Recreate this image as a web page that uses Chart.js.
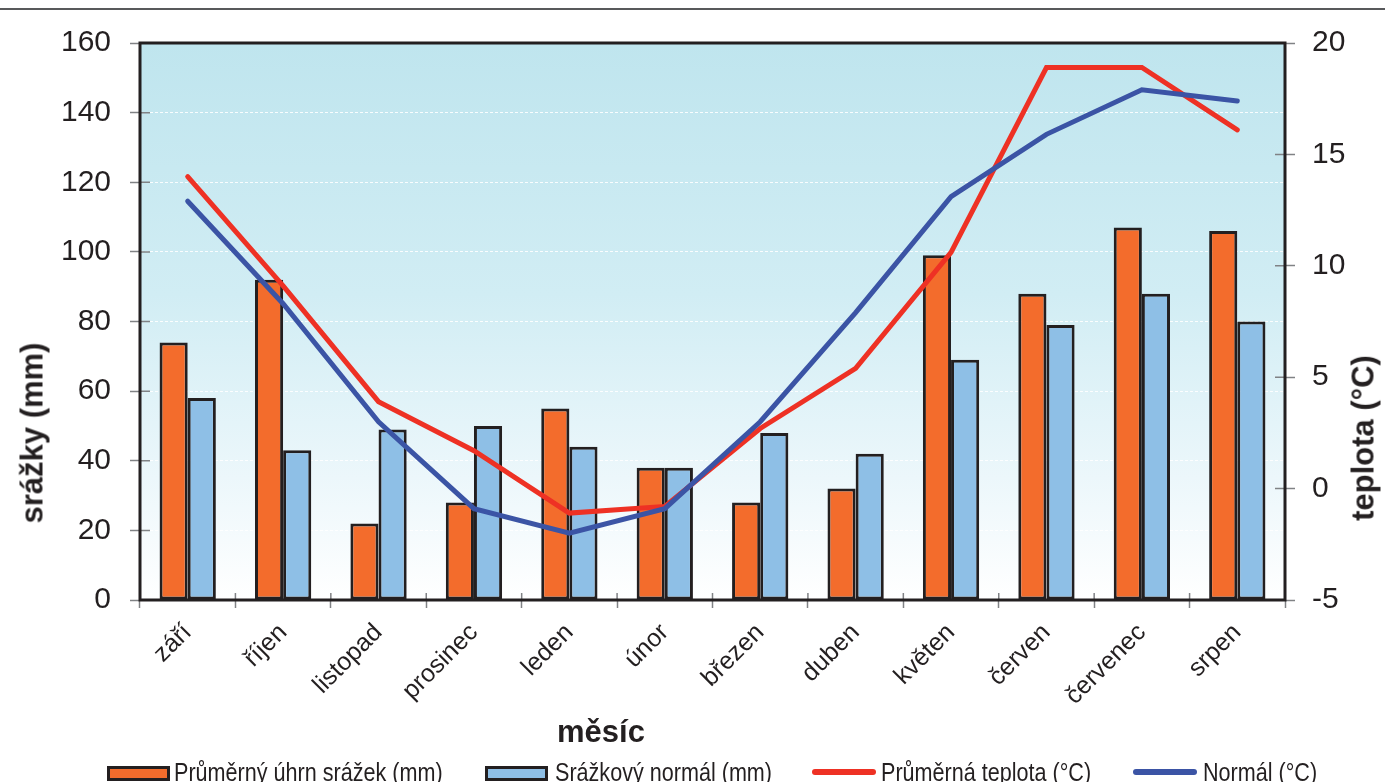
<!DOCTYPE html>
<html>
<head>
<meta charset="utf-8">
<script src="https://cdn.jsdelivr.net/npm/chart.js@4/dist/chart.umd.min.js"></script>
<style>
  html, body { margin: 0; padding: 0; background: #fff; }
  #wrap { position: relative; width: 1385px; height: 782px; overflow: hidden; }
  #topline { position: absolute; left: 0; top: 8px; width: 1385px; height: 0; border-top: 2px solid #58595b; }
  canvas { position: absolute; left: 0; top: 0; }
  .title { position: absolute; font-family: "Liberation Sans", Arial, sans-serif; font-weight: bold; font-size: 31px; color: #231f20; white-space: nowrap; line-height: 1; }
  .rot { transform: translate(-50%, -50%) rotate(-90deg); }
  .leg { position: absolute; top: 758px; height: 28px; font-family: "Liberation Sans", Arial, sans-serif; font-size: 26px; color: #231f20; white-space: nowrap; }
  .leg .sym { position: absolute; left: 0; }
  .leg .txt { position: absolute; top: 0; line-height: 28px; transform: scaleX(0.83); transform-origin: 0 50%; }
  .box { top: 8px; width: 57px; height: 9px; border: 3px solid #231f20; box-sizing: content-box; }
  .ln { top: 11px; width: 64px; height: 6px; border-radius: 3px; }
</style>
</head>
<body>
<div id="wrap">
  <canvas id="c" width="1385" height="782"></canvas>
  <div id="topline"></div>
  <div class="title rot" style="left:32px; top:433px;">srážky (mm)</div>
  <div class="title rot" style="left:1363px; top:438px;">teplota (°C)</div>
  <div class="title" style="left:601px; top:731px; transform: translate(-50%,-50%);">měsíc</div>
  <div class="leg" style="left:107px;"><span class="sym box" style="background:#f36c2c"></span><span class="txt" style="left:67px;">Průměrný úhrn srážek (mm)</span></div>
  <div class="leg" style="left:485px;"><span class="sym box" style="background:#8ebfe6"></span><span class="txt" style="left:70px;">Srážkový normál (mm)</span></div>
  <div class="leg" style="left:812px;"><span class="sym ln" style="background:#ee3124"></span><span class="txt" style="left:69px;">Průměrná teplota (°C)</span></div>
  <div class="leg" style="left:1133px;"><span class="sym ln" style="background:#3b54a5"></span><span class="txt" style="left:70px;">Normál (°C)</span></div>
</div>
<script>
const months = ['září','říjen','listopad','prosinec','leden','únor','březen','duben','květen','červen','červenec','srpen'];
const rainAvg = [74, 92, 22, 28, 55, 38, 28, 32, 99, 88, 107, 106];
const rainNormal = [58, 43, 49, 50, 44, 38, 48, 42, 69, 79, 88, 80];
const tempAvg = [14.0, 9.1, 3.9, 1.7, -1.1, -0.8, 2.7, 5.4, 10.6, 18.9, 18.9, 16.1];
const tempNormal = [12.9, 8.3, 3.0, -0.9, -2.0, -0.9, 3.0, 7.9, 13.1, 15.9, 17.9, 17.4];
const seriesNames = ['Průměrný úhrn srážek (mm)', 'Srážkový normál (mm)', 'Průměrná teplota (°C)', 'Normál (°C)'];

const bgPlugin = {
  id: 'bg',
  beforeDraw(chart) {
    const {ctx, chartArea: a} = chart;
    const g = ctx.createLinearGradient(0, a.top, 0, a.bottom);
    g.addColorStop(0, 'rgb(191,229,238)');
    g.addColorStop(0.45, 'rgb(209,237,244)');
    g.addColorStop(0.78, 'rgb(236,247,251)');
    g.addColorStop(1, 'rgb(255,255,255)');
    ctx.save();
    ctx.fillStyle = g;
    ctx.fillRect(a.left, a.top, a.right - a.left, a.bottom - a.top);
    ctx.restore();
  },
  afterDraw(chart) {
    const {ctx, chartArea: a, scales} = chart;
    ctx.save();
    ctx.strokeStyle = '#808285';
    ctx.lineWidth = 1.5;
    ctx.beginPath();
    scales.y.ticks.forEach((t, i) => { const p = scales.y.getPixelForTick(i); ctx.moveTo(a.left, p); ctx.lineTo(a.left + 10, p); });
    scales.y1.ticks.forEach((t, i) => { const p = scales.y1.getPixelForTick(i); ctx.moveTo(a.right, p); ctx.lineTo(a.right - 10, p); });
    for (let i = 0; i <= months.length; i++) { const p = scales.x.getPixelForValue(i - 0.5); ctx.moveTo(p, a.bottom); ctx.lineTo(p, a.bottom - 7); }
    ctx.stroke();
    ctx.strokeStyle = '#231f20';
    ctx.lineWidth = 3;
    ctx.strokeRect(a.left, a.top, a.right - a.left, a.bottom - a.top);
    ctx.restore();
  }
};

new Chart(document.getElementById('c'), {
  type: 'bar',
  data: {
    labels: months,
    datasets: [
      { type: 'line', label: seriesNames[3], data: tempNormal, yAxisID: 'y1', borderColor: '#3b54a5', borderWidth: 5, pointRadius: 0, tension: 0, borderCapStyle: 'round', order: 0 },
      { type: 'line', label: seriesNames[2], data: tempAvg, yAxisID: 'y1', borderColor: '#ee3124', borderWidth: 5, pointRadius: 0, tension: 0, borderCapStyle: 'round', order: 1 },
      { label: seriesNames[0], data: rainAvg, yAxisID: 'y', backgroundColor: '#f36c2c', borderColor: '#231f20', borderWidth: 3, borderSkipped: false, categoryPercentage: 0.59, barPercentage: 1.0, order: 2 },
      { label: seriesNames[1], data: rainNormal, yAxisID: 'y', backgroundColor: '#8ebfe6', borderColor: '#231f20', borderWidth: 3, borderSkipped: false, categoryPercentage: 0.59, barPercentage: 1.0, order: 3 }
    ]
  },
  options: {
    responsive: false,
    animation: false,
    maintainAspectRatio: false,
    layout: { padding: { top: 43, left: 0, right: 0, bottom: 0 } },
    plugins: { legend: { display: false }, tooltip: { enabled: false } },
    scales: {
      x: {
        offset: true,
        grid: { display: true, offset: true, drawOnChartArea: false, tickLength: 8, tickColor: '#808285', tickWidth: 1.5 },
        border: { display: false },
        ticks: { minRotation: 45, maxRotation: 45, autoSkip: false, padding: 10, color: '#231f20', font: { family: 'Liberation Sans', size: 25 } },
        afterFit(s) { s.height = 182; }
      },
      y: {
        position: 'left',
        min: 0, max: 160,
        ticks: { stepSize: 20, padding: 19, color: '#231f20', font: { family: 'Liberation Sans', size: 30 } },
        grid: {
          color: (c) => (c.tick && c.tick.value > 0 && c.tick.value < 160) ? 'rgba(255,255,255,0.9)' : 'rgba(0,0,0,0)',
          lineWidth: 1, tickLength: 10, tickColor: '#808285', tickWidth: 1.5
        },
        border: { display: false, dash: [3, 2] },
        afterFit(s) { s.width = 140; }
      },
      y1: {
        position: 'right',
        min: -5, max: 20,
        ticks: { stepSize: 5, padding: 17, color: '#231f20', font: { family: 'Liberation Sans', size: 30 } },
        grid: { drawOnChartArea: false, tickLength: 10, tickColor: '#808285', tickWidth: 1.5 },
        border: { display: false },
        afterFit(s) { s.width = 100; }
      }
    }
  },
  plugins: [bgPlugin]
});
</script>
</body>
</html>
